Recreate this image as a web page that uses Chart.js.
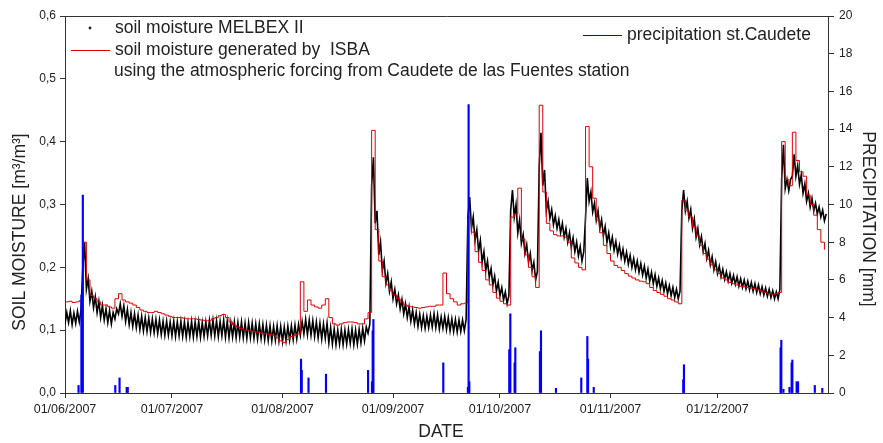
<!DOCTYPE html>
<html>
<head>
<meta charset="utf-8">
<script src="https://cdn.jsdelivr.net/npm/chart.js@4.4.1/dist/chart.umd.min.js"></script>
<style>
  body { margin: 0; background: #fff; }
  #wrap { position: relative; width: 883px; height: 443px; }
</style>
</head>
<body>
<div id="wrap"><canvas id="moistureChart"></canvas></div>
<script>
// x values are days counted from 01/06/2007
const xTickDays = [0, 30, 61, 92, 122, 153, 183];
const xTickLabels = ["01/06/2007", "01/07/2007", "01/08/2007", "01/09/2007", "01/10/2007", "01/11/2007", "01/12/2007"];

// MELBEX II soil moisture, daily low / daily high (m3/m3), one entry per day
const melbexLow = [
  0.110, 0.112, 0.109, 0.111, 0.113, 0.200, 0.165, 0.146, 0.136, 0.128,
  0.120, 0.116, 0.112, 0.110, 0.118, 0.126, 0.122, 0.114, 0.109, 0.106,
  0.104, 0.101, 0.099, 0.098, 0.097, 0.096, 0.095, 0.093, 0.092, 0.092,
  0.091, 0.090, 0.091, 0.090, 0.089, 0.090, 0.089, 0.090, 0.089, 0.090,
  0.091, 0.092, 0.091, 0.090, 0.091, 0.089, 0.088, 0.089, 0.088, 0.089,
  0.088, 0.087, 0.088, 0.087, 0.086, 0.087, 0.085, 0.084, 0.083, 0.084,
  0.083, 0.082, 0.083, 0.084, 0.085, 0.086, 0.092, 0.094, 0.093, 0.092,
  0.090, 0.088, 0.086, 0.087, 0.080, 0.078, 0.077, 0.078, 0.077, 0.078,
  0.079, 0.077, 0.078, 0.080, 0.083, 0.095, 0.330, 0.270, 0.220, 0.195,
  0.175, 0.162, 0.150, 0.142, 0.134, 0.126, 0.120, 0.114, 0.110, 0.106,
  0.104, 0.103, 0.104, 0.105, 0.104, 0.102, 0.103, 0.101, 0.099, 0.098,
  0.097, 0.098, 0.099, 0.280, 0.262, 0.243, 0.226, 0.208, 0.195, 0.184,
  0.172, 0.162, 0.155, 0.148, 0.142, 0.290, 0.280, 0.255, 0.238, 0.222,
  0.208, 0.195, 0.180, 0.360, 0.330, 0.290, 0.278, 0.268, 0.262, 0.255,
  0.248, 0.240, 0.232, 0.225, 0.218, 0.210, 0.280, 0.305, 0.288, 0.275,
  0.262, 0.250, 0.240, 0.233, 0.227, 0.221, 0.215, 0.210, 0.205, 0.200,
  0.196, 0.192, 0.188, 0.183, 0.178, 0.174, 0.170, 0.166, 0.162, 0.158,
  0.155, 0.152, 0.150, 0.290, 0.290, 0.278, 0.262, 0.248, 0.236, 0.225,
  0.214, 0.204, 0.196, 0.190, 0.185, 0.181, 0.178, 0.175, 0.173, 0.170,
  0.168, 0.166, 0.164, 0.162, 0.160, 0.158, 0.156, 0.154, 0.152, 0.150,
  0.150, 0.340, 0.325, 0.322, 0.345, 0.345, 0.332, 0.318, 0.305, 0.296,
  0.290, 0.285, 0.280, 0.274
];
const melbexHigh = [
  0.128, 0.131, 0.127, 0.130, 0.132, 0.240, 0.182, 0.162, 0.153, 0.146,
  0.139, 0.134, 0.131, 0.128, 0.134, 0.142, 0.139, 0.133, 0.128, 0.126,
  0.124, 0.122, 0.120, 0.119, 0.118, 0.117, 0.116, 0.114, 0.114, 0.113,
  0.114, 0.113, 0.114, 0.113, 0.112, 0.114, 0.113, 0.114, 0.112, 0.113,
  0.115, 0.116, 0.115, 0.114, 0.116, 0.114, 0.112, 0.113, 0.112, 0.113,
  0.111, 0.112, 0.111, 0.110, 0.110, 0.109, 0.108, 0.107, 0.106, 0.107,
  0.106, 0.105, 0.106, 0.107, 0.108, 0.109, 0.114, 0.117, 0.116, 0.115,
  0.113, 0.111, 0.110, 0.111, 0.104, 0.102, 0.100, 0.101, 0.100, 0.101,
  0.102, 0.100, 0.101, 0.103, 0.105, 0.110, 0.375, 0.290, 0.240, 0.210,
  0.190, 0.177, 0.165, 0.156, 0.149, 0.142, 0.137, 0.132, 0.128, 0.125,
  0.123, 0.122, 0.124, 0.126, 0.124, 0.121, 0.122, 0.120, 0.118, 0.117,
  0.116, 0.116, 0.117, 0.312, 0.280, 0.260, 0.243, 0.225, 0.210, 0.198,
  0.186, 0.176, 0.168, 0.161, 0.155, 0.323, 0.300, 0.275, 0.252, 0.236,
  0.222, 0.208, 0.194, 0.414, 0.355, 0.305, 0.292, 0.282, 0.276, 0.270,
  0.262, 0.255, 0.247, 0.240, 0.233, 0.225, 0.342, 0.320, 0.302, 0.290,
  0.276, 0.265, 0.255, 0.248, 0.241, 0.235, 0.229, 0.224, 0.219, 0.214,
  0.210, 0.206, 0.202, 0.197, 0.192, 0.188, 0.183, 0.179, 0.175, 0.171,
  0.168, 0.165, 0.162, 0.323, 0.305, 0.292, 0.277, 0.262, 0.249, 0.238,
  0.227, 0.217, 0.209, 0.202, 0.197, 0.193, 0.190, 0.187, 0.185, 0.182,
  0.180, 0.178, 0.176, 0.174, 0.172, 0.169, 0.167, 0.165, 0.163, 0.161,
  0.165, 0.395, 0.340, 0.340, 0.380, 0.362, 0.347, 0.333, 0.318, 0.310,
  0.302, 0.296, 0.291, 0.285
];

// ISBA simulated soil moisture, daily (m3/m3)
const isbaMoisture = [
  0.145, 0.146, 0.144, 0.145, 0.147, 0.240, 0.180, 0.155, 0.150, 0.145,
  0.140, 0.140, 0.137, 0.135, 0.150, 0.158, 0.148, 0.145, 0.143, 0.140,
  0.136, 0.132, 0.130, 0.128, 0.128, 0.130, 0.128, 0.126, 0.124, 0.122,
  0.120, 0.120, 0.120, 0.119, 0.118, 0.118, 0.118, 0.117, 0.116, 0.115,
  0.115, 0.118, 0.120, 0.123, 0.125, 0.120, 0.113, 0.108, 0.105, 0.103,
  0.100, 0.100, 0.098, 0.097, 0.096, 0.095, 0.094, 0.093, 0.092, 0.088,
  0.083, 0.080, 0.085, 0.090, 0.092, 0.094, 0.177, 0.130, 0.148, 0.140,
  0.137, 0.135, 0.140, 0.150, 0.120, 0.110, 0.108, 0.110, 0.112, 0.113,
  0.113, 0.112, 0.110, 0.110, 0.118, 0.128, 0.418, 0.260, 0.210, 0.185,
  0.172, 0.163, 0.156, 0.150, 0.145, 0.140, 0.138, 0.137, 0.136, 0.135,
  0.136, 0.137, 0.138, 0.138, 0.140, 0.140, 0.191, 0.158, 0.150, 0.145,
  0.140, 0.142, 0.143, 0.279, 0.256, 0.225, 0.208, 0.195, 0.180, 0.172,
  0.160, 0.151, 0.146, 0.142, 0.140, 0.280, 0.285, 0.326, 0.245, 0.220,
  0.200, 0.185, 0.168, 0.458, 0.320, 0.270, 0.258, 0.252, 0.250, 0.250,
  0.248, 0.240, 0.215, 0.207, 0.200, 0.196, 0.424, 0.360, 0.310, 0.275,
  0.255, 0.235, 0.222, 0.210, 0.203, 0.200, 0.195, 0.190, 0.186, 0.183,
  0.180, 0.178, 0.177, 0.174, 0.168, 0.163, 0.160, 0.157, 0.154, 0.150,
  0.148, 0.145, 0.142, 0.307, 0.290, 0.280, 0.265, 0.250, 0.235, 0.222,
  0.213, 0.204, 0.196, 0.190, 0.183, 0.180, 0.176, 0.174, 0.172, 0.170,
  0.169, 0.168, 0.167, 0.166, 0.164, 0.162, 0.160, 0.158, 0.157, 0.158,
  0.160, 0.400, 0.340, 0.330, 0.415, 0.370, 0.352, 0.345, 0.315, 0.300,
  0.283, 0.260, 0.240, 0.228
];

// precipitation at Caudete station (day, mm)
const precipDay = [3.8, 4.6, 5.0, 14.1, 15.3, 17.3, 17.6, 66.2, 66.4, 68.3, 73.2, 85.0, 86.1, 86.3, 86.5,
  106.1, 113.0, 113.2, 113.4, 124.6, 124.9, 126.1, 126.3, 133.2, 133.5, 137.7, 144.8, 146.5, 146.7, 148.3,
  173.4, 173.6, 200.7, 200.9, 201.5, 203.2, 203.8, 204.0, 205.2, 205.6, 210.3, 212.4];
const precipMm = [0.4, 5.2, 10.5, 0.4, 0.8, 0.3, 0.3, 1.8, 1.2, 0.8, 1.0, 1.2, 0.6, 3.3, 3.9,
  1.6, 0.3, 15.3, 0.6, 2.3, 4.2, 1.6, 2.4, 2.2, 3.3, 0.25, 0.8, 3.0, 1.8, 0.3,
  0.7, 1.5, 2.4, 2.8, 0.2, 0.3, 1.6, 1.75, 0.6, 0.6, 0.4, 0.25];

const FONT = '"Liberation Sans", Arial, sans-serif';

const melbexPoints = [];
melbexLow.forEach((v, d) => {
  melbexPoints.push({ x: d, y: v });
  melbexPoints.push({ x: d + 0.5, y: melbexHigh[d] });
});
const isbaPoints = isbaMoisture.map((v, d) => ({ x: d, y: v }));
const precipPoints = precipDay.map((d, i) => ({ x: d, y: precipMm[i] }));

// frame, legend and axis titles
const decorations = {
  id: "decorations",
  afterDraw(chart) {
    const ctx = chart.ctx;
    const area = chart.chartArea;
    ctx.save();
    ctx.strokeStyle = "#333";
    ctx.lineWidth = 1;
    ctx.beginPath();
    ctx.moveTo(area.left, area.top + 0.5);
    ctx.lineTo(area.right, area.top + 0.5);
    ctx.stroke();

    ctx.fillStyle = "#222";
    ctx.font = "17.5px " + FONT;
    ctx.textBaseline = "middle";
    ctx.textAlign = "left";

    ctx.beginPath();
    ctx.arc(90, 28, 1.4, 0, Math.PI * 2);
    ctx.fill();
    ctx.fillText("soil moisture MELBEX II", 115, 28);

    ctx.strokeStyle = "#e00000";
    ctx.beginPath();
    ctx.moveTo(71, 50.5);
    ctx.lineTo(110, 50.5);
    ctx.stroke();
    ctx.fillText("soil moisture generated by  ISBA", 115, 50);
    ctx.fillText("using the atmospheric forcing from Caudete de las Fuentes station", 114, 71);

    ctx.strokeStyle = "#0000ff";
    ctx.beginPath();
    ctx.moveTo(583, 35.5);
    ctx.lineTo(622, 35.5);
    ctx.stroke();
    ctx.fillText("precipitation st.Caudete", 627, 35);

    ctx.textAlign = "center";
    ctx.fillText("DATE", 441, 432);

    ctx.save();
    ctx.translate(20, 232);
    ctx.rotate(-Math.PI / 2);
    ctx.fillText("SOIL MOISTURE [m³/m³]", 0, 0);
    ctx.restore();

    ctx.save();
    ctx.translate(868, 219);
    ctx.rotate(Math.PI / 2);
    ctx.fillText("PRECIPITATION [mm]", 0, 0);
    ctx.restore();

    ctx.restore();
  }
};

new Chart(document.getElementById("moistureChart"), {
  type: "line",
  data: {
    datasets: [
      {
        type: "bar",
        label: "precipitation st.Caudete",
        data: precipPoints,
        yAxisID: "y1",
        backgroundColor: "#0000ff",
        borderWidth: 0,
        barThickness: 1.5,
        grouped: false,
        order: 0
      },
      {
        label: "soil moisture generated by ISBA",
        data: isbaPoints,
        yAxisID: "y",
        borderColor: "#e00000",
        borderWidth: 1,
        stepped: true,
        pointRadius: 0,
        fill: false,
        order: 1
      },
      {
        label: "soil moisture MELBEX II",
        data: melbexPoints,
        yAxisID: "y",
        borderColor: "#000",
        borderWidth: 1.6,
        pointRadius: 0,
        fill: false,
        order: 2
      }
    ]
  },
  options: {
    responsive: true,
    maintainAspectRatio: false,
    animation: false,
    layout: { padding: { top: 16, left: 0, right: 0, bottom: 0 } },
    plugins: {
      legend: { display: false },
      tooltip: { enabled: false }
    },
    scales: {
      x: {
        type: "linear",
        min: 0,
        max: 214,
        offset: false,
        afterFit: (s) => { s.height = 50; },
        afterBuildTicks: (s) => { s.ticks = xTickDays.map((v) => ({ value: v })); },
        grid: { offset: false, drawOnChartArea: false, drawTicks: true, tickLength: 5, color: "#333" },
        border: { display: true, color: "#333" },
        ticks: {
          autoSkip: false,
          maxRotation: 0,
          padding: 4,
          color: "#222",
          font: { family: FONT, size: 12.5 },
          callback: (v) => xTickLabels[xTickDays.indexOf(v)]
        }
      },
      y: {
        position: "left",
        min: 0,
        max: 0.6,
        afterFit: (s) => { s.width = 65; },
        grid: { drawOnChartArea: false, drawTicks: true, tickLength: 5, color: "#333" },
        border: { display: true, color: "#333" },
        ticks: {
          stepSize: 0.1,
          padding: 4,
          color: "#222",
          font: { family: FONT, size: 12 },
          callback: (v) => v.toFixed(1).replace(".", ",")
        }
      },
      y1: {
        position: "right",
        min: 0,
        max: 20,
        afterFit: (s) => { s.width = 55; },
        grid: { drawOnChartArea: false, drawTicks: true, tickLength: 6, color: "#333" },
        border: { display: true, color: "#333" },
        ticks: {
          stepSize: 2,
          padding: 5,
          color: "#222",
          font: { family: FONT, size: 12 }
        }
      }
    }
  },
  plugins: [decorations]
});
</script>
</body>
</html>
